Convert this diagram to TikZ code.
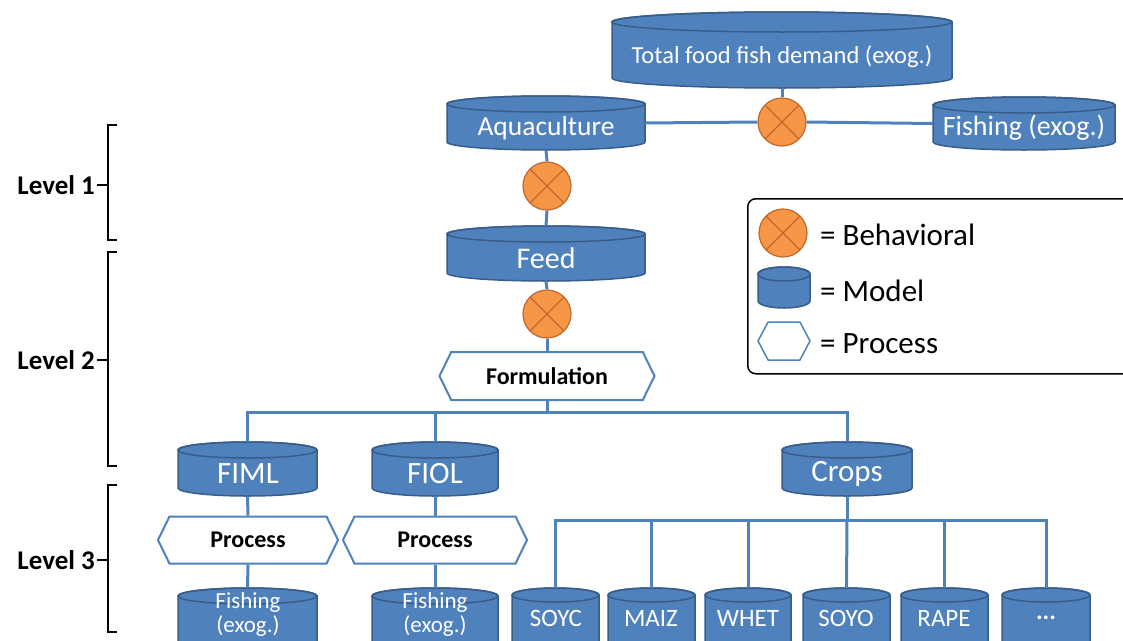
\documentclass[tikz,border=0pt]{standalone}
\usepackage{fontspec}
\setmainfont{Carlito}
\usetikzlibrary{shapes.symbols}
\definecolor{mblue}{HTML}{4F81BD}
\definecolor{mdark}{HTML}{385D8A}
\definecolor{borange}{HTML}{F79646}
\definecolor{bdark}{HTML}{C0692A}
\tikzset{
 modelbody/.style={fill=mblue, draw=mdark, line width=1.5pt},
 modeltop/.style={draw=mdark, line width=1.5pt},
 anchorbox/.style={rectangle, inner sep=0pt, draw=none},
 mtext/.style={text=white, inner sep=0pt},
 link/.style={draw=mblue, line width=3pt},
 behav/.style={circle, minimum size=48pt, inner sep=0pt, fill=borange, draw=bdark, line width=1.2pt,
   path picture={\draw[bdark, line width=1.2pt] (path picture bounding box.north west) -- (path picture bounding box.south east) (path picture bounding box.north east) -- (path picture bounding box.south west);}},
 proc/.style={signal, signal to=east and west, signal pointer angle=128, draw=mblue, line width=2pt, fill=white, inner sep=0pt, font=\bfseries\fontsize{24}{26}\selectfont},
 lvl/.style={font=\bfseries\fontsize{27}{29}\selectfont, inner sep=0pt, anchor=east},
 bracketline/.style={line width=2.2pt, black},
 legtext/.style={font=\fontsize{31}{33}\selectfont, inner sep=0pt, anchor=west},
}
\newcommand\drawcyl[6]{%
 \pgfmathsetmacro\cylx{(#2+#3)/2}%
 \pgfmathsetmacro\cylr{(#3-#2)/2}%
 \pgfmathsetmacro\cyla{-(#4)-(#6)}%
 \pgfmathsetmacro\cylb{-(#5)+(#6)}%
 \pgfmathsetmacro\cylm{-(#4+#5)/2}%
 \pgfmathsetmacro\cylw{#3-#2}%
 \pgfmathsetmacro\cylh{#5-#4}%
 \path[modelbody] (#2,\cyla) -- (#2,\cylb) arc[start angle=180,end angle=360,x radius=\cylr,y radius=#6] -- (#3,\cyla) arc[start angle=0,end angle=180,x radius=\cylr,y radius=#6] -- cycle;
 \draw[modeltop] (\cylx,\cyla) ellipse[x radius=\cylr,y radius=#6];
 \node[anchorbox, minimum width=\cylw pt, minimum height=\cylh pt] (#1) at (\cylx,\cylm) {};
}
\begin{document}
\begin{tikzpicture}[x=1pt,y=1pt]
\useasboundingbox (0,0) rectangle (1123,-640);
\clip (0,0) rectangle (1123,-640);

% models (cylinders)
\drawcyl{demand}{612}{952}{12}{88}{10}
\drawcyl{aqua}{447}{645}{96}{150}{8}
\drawcyl{fishx}{933}{1115}{97}{150}{8}
\drawcyl{feed}{447}{645}{226}{281}{8}
\drawcyl{fiml}{178}{317}{442}{496}{8}
\drawcyl{fiol}{372}{498}{442}{496}{8}
\drawcyl{crops}{782}{912}{442}{496}{8}
\drawcyl{fish1}{178}{317}{588}{650}{8}
\drawcyl{fish2}{372}{498}{588}{650}{8}
\drawcyl{soyc}{512}{599}{588}{650}{7}
\drawcyl{maiz}{608}{695}{588}{650}{7}
\drawcyl{whet}{705}{791}{588}{650}{7}
\drawcyl{soyo}{803}{890}{588}{650}{7}
\drawcyl{rape}{901}{988}{588}{650}{7}
\drawcyl{more}{1002}{1090}{588}{650}{7}

% model texts
\node[mtext, font=\fontsize{24.5}{26}\selectfont] (demandt) at (782,-57) {Total food fish demand (exog.)};
\node[mtext, font=\fontsize{27.5}{29}\selectfont] (aquat) at (546,-128) {Aquaculture};
\node[mtext, font=\fontsize{28}{30}\selectfont] (fishxt) at (1024,-128) {Fishing (exog.)};
\node[mtext, font=\fontsize{30}{32}\selectfont] (feedt) at (546,-258) {Feed};
\node[mtext, font=\fontsize{31}{33}\selectfont] (fimlt) at (248,-474) {FIML};
\node[mtext, font=\fontsize{31}{33}\selectfont] (fiolt) at (435,-474) {FIOL};
\node[mtext, font=\fontsize{31}{33}\selectfont] (cropst) at (847,-474) {Crops};
\node[mtext, font=\fontsize{23}{24}\selectfont, align=center] (fish1t) at (248,-614) {Fishing\\(exog.)};
\node[mtext, font=\fontsize{23}{24}\selectfont, align=center] (fish2t) at (435,-614) {Fishing\\(exog.)};
\node[mtext, font=\fontsize{25}{27}\selectfont] (soyct) at (556,-618) {SOYC};
\node[mtext, font=\fontsize{25}{27}\selectfont] (maizt) at (651,-618) {MAIZ};
\node[mtext, font=\fontsize{25}{27}\selectfont] (whett) at (748,-618) {WHET};
\node[mtext, font=\fontsize{25}{27}\selectfont] (soyot) at (846,-618) {SOYO};
\node[mtext, font=\fontsize{25}{27}\selectfont] (rapet) at (944,-618) {RAPE};
\node[mtext, font=\bfseries\fontsize{25}{27}\selectfont] (moret) at (1046,-618) {...};

% behavioral
\node[behav] (b1) at (782,-122) {};
\node[behav] (b2) at (547,-186) {};
\node[behav] (b3) at (547,-314) {};

% processes
\node[proc, minimum width=215pt, minimum height=48pt] (form) at (547,-376) {Formulation};
\node[proc, minimum width=180pt, minimum height=47pt] (p1) at (248,-540) {Process};
\node[proc, minimum width=184pt, minimum height=47pt] (p2) at (435,-540) {Process};

% junctions
\coordinate (j1) at (547,-412);
\coordinate (j2) at (847,-520);

% connectors
\draw[link] (demand.south) -- (b1.north);
\draw[link] (aqua.east) -- (b1.west);
\draw[link] (b1.east) -- (fishx.west);
\draw[link] (aqua.south) -- (b2.north);
\draw[link] (b2.south) -- (feed.north);
\draw[link] (feed.south) -- (b3.north);
\draw[link] (b3.south) -- (form.north);
\draw[link] (form.south) -- (j1);
\draw[link] (fiml.north) |- (j1) -| (crops.north);
\draw[link] (fiol.north) -- (fiol.north |- j1);
\draw[link] (fiml.south) -- (p1.north);
\draw[link] (p1.south) -- (fish1.north);
\draw[link] (fiol.south) -- (p2.north);
\draw[link] (p2.south) -- (fish2.north);
\draw[link] (crops.south) -- (j2);
\draw[link] (soyc.north) |- (j2) -| (more.north);
\draw[link] (maiz.north) -- (maiz.north |- j2);
\draw[link] (whet.north) -- (whet.north |- j2);
\draw[link] (j2) -- (soyo.north);
\draw[link] (rape.north) -- (rape.north |- j2);

% legend
\node[draw=black, line width=1.5pt, rounded corners=8pt, minimum width=400pt, minimum height=175pt, anchor=north west, inner sep=0pt] (legend) at (747,-198) {};
\node[behav] (legb) at (783,-233) {};
\node[legtext] (legbt) at (820,-235) {= Behavioral};
\drawcyl{legm}{758}{810}{267}{308}{7}
\node[legtext] (legmt) at (820,-291) {= Model};
\node[proc, minimum width=52pt, minimum height=38pt, line width=1.5pt, signal pointer angle=124] (legp) at (784,-341) {};
\node[legtext] (legpt) at (820,-344) {= Process};

% levels
\node[lvl] (L1) at (95,-185) {Level 1};
\node[lvl] (L2) at (95,-360) {Level 2};
\node[lvl] (L3) at (95,-560) {Level 3};
\coordinate (B1) at (108,-185);
\coordinate (B2) at (108,-360);
\coordinate (B3) at (108,-560);
\draw[bracketline] (L1.east) ++(2,0) -- (B1);
\draw[bracketline] (L2.east) ++(2,0) -- (B2);
\draw[bracketline] (L3.east) ++(2,0) -- (B3);
\draw[bracketline] (117,-125) -- (108,-125) -- (108,-240) -- (117,-240);
\draw[bracketline] (117,-252) -- (108,-252) -- (108,-466) -- (117,-466);
\draw[bracketline] (117,-485) -- (108,-485) -- (108,-632) -- (117,-632);
\end{tikzpicture}
\end{document}
